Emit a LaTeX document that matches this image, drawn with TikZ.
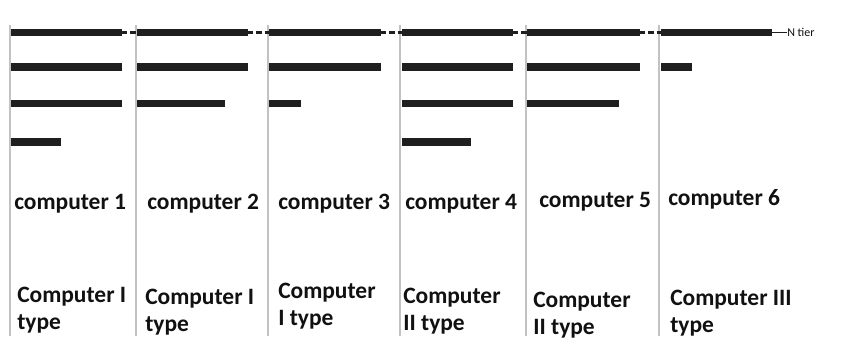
\documentclass[tikz,border=0pt]{standalone}
\usepackage{fontspec}
\setmainfont{Carlito}
\definecolor{barc}{HTML}{1F1F1F}
\definecolor{linec}{HTML}{C2C2C2}
\definecolor{txtc}{HTML}{111111}
\begin{document}
\begin{tikzpicture}[x=0.75pt,y=-0.75pt,
  bar/.style={fill=barc, draw=none, inner sep=0pt, outer sep=0pt, anchor=west, minimum height=5.6pt},
  w/.style={minimum width=#1*0.75pt},
  vline/.style={draw=linec, line width=2pt},
  dashc/.style={draw=barc, line width=2.4pt, dash pattern=on 4pt off 2.2pt},
  tierline/.style={draw=barc, line width=1.4pt},
  lbl/.style={inner sep=0pt, anchor=base west, font=\bfseries\fontsize{17.6pt}{19.9pt}\selectfont, text=txtc},
  small/.style={inner sep=0pt, anchor=base west, font=\fontsize{9pt}{11pt}\selectfont, text=txtc}]
\useasboundingbox[fill=white] (0,0) rectangle (842,341);
% vertical separators
\foreach \xx in {10,136,268,400,526,659}
  \draw[vline] (\xx,25) -- (\xx,336);
% bars: column 1
\node[bar,w=111] (c1r1) at (11,32.5) {};
\node[bar,w=111] (c1r2) at (11,67) {};
\node[bar,w=111] (c1r3) at (11,103.5) {};
\node[bar,w=50]  (c1r4) at (11,142) {};
% column 2
\node[bar,w=111] (c2r1) at (137,32.5) {};
\node[bar,w=111] (c2r2) at (137,67) {};
\node[bar,w=88]  (c2r3) at (137,103.5) {};
% column 3
\node[bar,w=112] (c3r1) at (269,32.5) {};
\node[bar,w=112] (c3r2) at (269,67) {};
\node[bar,w=32]  (c3r3) at (269,103.5) {};
% column 4
\node[bar,w=111] (c4r1) at (402,32.5) {};
\node[bar,w=111] (c4r2) at (402,67) {};
\node[bar,w=111] (c4r3) at (402,103.5) {};
\node[bar,w=69]  (c4r4) at (402,142) {};
% column 5
\node[bar,w=113] (c5r1) at (527,32.5) {};
\node[bar,w=113] (c5r2) at (527,67) {};
\node[bar,w=92]  (c5r3) at (527,103.5) {};
% column 6
\node[bar,w=111] (c6r1) at (661,32.5) {};
\node[bar,w=31]  (c6r2) at (661,67) {};
% dashed links along the top tier
\draw[dashc] (c1r1.east) -- (c2r1.west);
\draw[dashc] (c2r1.east) -- (c3r1.west);
\draw[dashc] (c3r1.east) -- (c4r1.west);
\draw[dashc] (c4r1.east) -- (c5r1.west);
\draw[dashc] (c5r1.east) -- (c6r1.west);
% N tier label
\node[small] (ntier) at (787,37) {N tier};
\draw[tierline] (c6r1.east) -- (ntier.west |- c6r1.east);
% computer names
\node[lbl] (n1) at (14,210) {computer 1};
\node[lbl] (n2) at (147,210) {computer 2};
\node[lbl] (n3) at (278,210) {computer 3};
\node[lbl] (n4) at (405,210) {computer 4};
\node[lbl] (n5) at (539,208) {computer 5};
\node[lbl] (n6) at (668,206) {computer 6};
% types
\node[lbl] (k1) at (17,303) {\begin{tabular}[t]{@{}l@{}}Computer I\\type\end{tabular}};
\node[lbl] (k2) at (145,305) {\begin{tabular}[t]{@{}l@{}}Computer I\\type\end{tabular}};
\node[lbl] (k3) at (278,299) {\begin{tabular}[t]{@{}l@{}}Computer\\I type\end{tabular}};
\node[lbl] (k4) at (403,304) {\begin{tabular}[t]{@{}l@{}}Computer\\II type\end{tabular}};
\node[lbl] (k5) at (533,308) {\begin{tabular}[t]{@{}l@{}}Computer\\II type\end{tabular}};
\node[lbl] (k6) at (670,306) {\begin{tabular}[t]{@{}l@{}}Computer III\\type\end{tabular}};
\end{tikzpicture}
\end{document}
